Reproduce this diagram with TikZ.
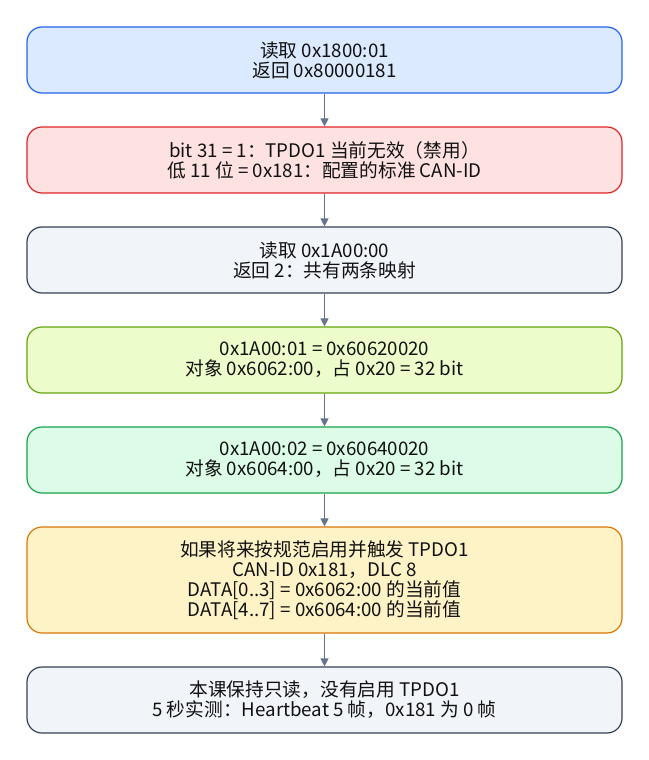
\documentclass[tikz,border=0pt]{standalone}
\usepackage{fontspec}
\setmainfont{Noto Sans CJK SC}
\usetikzlibrary{arrows.meta}
\definecolor{bluefill}{HTML}{DBEAFE}\definecolor{blueline}{HTML}{2563EB}
\definecolor{redfill}{HTML}{FEE2E2}\definecolor{redline}{HTML}{DC2626}
\definecolor{grayfill}{HTML}{F1F5F9}\definecolor{grayline}{HTML}{334155}
\definecolor{limefill}{HTML}{ECFCCB}\definecolor{limeline}{HTML}{65A30D}
\definecolor{greenfill}{HTML}{DCFCE7}\definecolor{greenline}{HTML}{16A34A}
\definecolor{amberfill}{HTML}{FEF3C7}\definecolor{amberline}{HTML}{D97706}
\definecolor{arrowcol}{HTML}{64748B}
\definecolor{textcol}{HTML}{111111}
\begin{document}
\begin{tikzpicture}[x=1pt,y=-1pt,
  box/.style={draw, line width=1.2pt, rounded corners=15pt, minimum width=595pt, align=center,
    font=\fontsize{18.7}{20}\selectfont, text=textcol, inner sep=0pt},
  conn/.style={draw=arrowcol, line width=1.3pt, -{Triangle[length=8pt,width=8pt]}}]
\useasboundingbox (0,0) rectangle (648,760);
\node[box, fill=bluefill, draw=blueline, minimum height=66pt] (b1) at (324.5,60) {读取 0x1800:01\\返回 0x80000181};
\node[box, fill=redfill, draw=redline, minimum height=66pt] (b2) at (324.5,160) {bit 31 = 1：TPDO1 当前无效（禁用）\\低 11 位 = 0x181：配置的标准 CAN-ID};
\node[box, fill=grayfill, draw=grayline, minimum height=66pt] (b3) at (324.5,260) {读取 0x1A00:00\\返回 2：共有两条映射};
\node[box, fill=limefill, draw=limeline, minimum height=66pt] (b4) at (324.5,360) {0x1A00:01 = 0x60620020\\对象 0x6062:00，占 0x20 = 32 bit};
\node[box, fill=greenfill, draw=greenline, minimum height=66pt] (b5) at (324.5,460) {0x1A00:02 = 0x60640020\\对象 0x6064:00，占 0x20 = 32 bit};
\node[box, fill=amberfill, draw=amberline, minimum height=106pt] (b6) at (324.5,580) {如果将来按规范启用并触发 TPDO1\\CAN-ID 0x181，DLC 8\\DATA[0..3] = 0x6062:00 的当前值\\DATA[4..7] = 0x6064:00 的当前值};
\node[box, fill=grayfill, draw=grayline, minimum height=66pt] (b7) at (324.5,700) {本课保持只读，没有启用 TPDO1\\5 秒实测：Heartbeat 5 帧，0x181 为 0 帧};
\draw[conn] (b1) -- (b2);
\draw[conn] (b2) -- (b3);
\draw[conn] (b3) -- (b4);
\draw[conn] (b4) -- (b5);
\draw[conn] (b5) -- (b6);
\draw[conn] (b6) -- (b7);
\end{tikzpicture}
\end{document}
